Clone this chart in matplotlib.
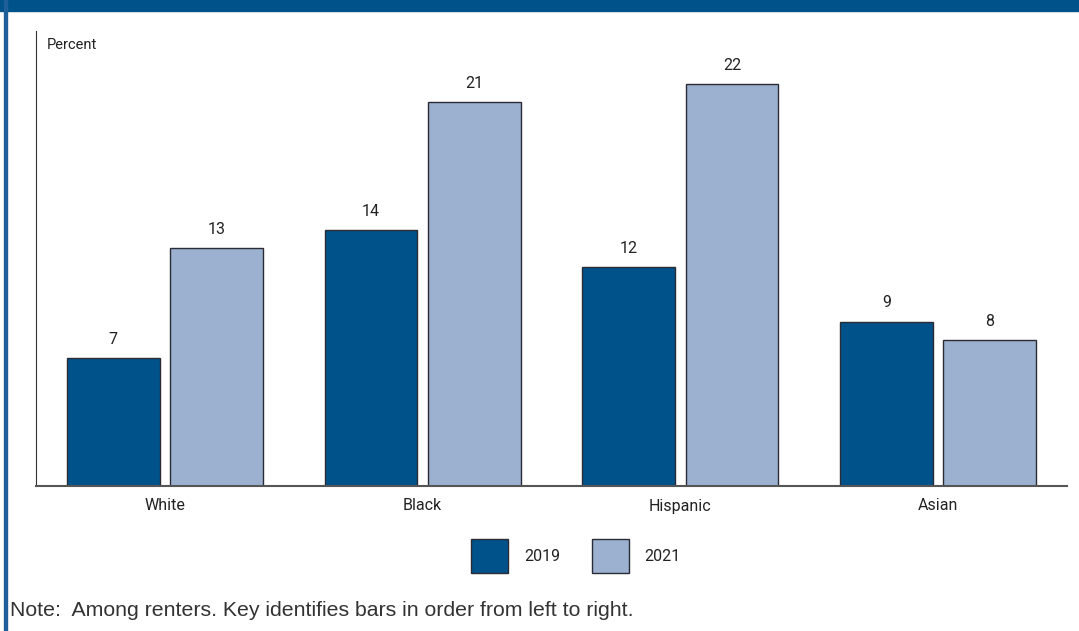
import matplotlib.pyplot as plt
import numpy as np
from matplotlib.patches import Rectangle

groups = ["White", "Black", "Hispanic", "Asian"]
years = ["2019", "2021"]
vals_2019 = [7, 14, 12, 9]
vals_2021 = [13, 21, 22, 8]

dark = "#00528a"
light = "#9cb1cf"
edge = "#2b2b35"
txt = "#222222"

plt.rcParams["font.family"] = ["Roboto", "DejaVu Sans"]

W, H = 1079, 631
fig = plt.figure(figsize=(W / 100, H / 100), dpi=100)

# frame: blue band on top, thin blue line on the left
fig.patches.append(Rectangle((0, 1 - 11 / H), 1, 11 / H, transform=fig.transFigure,
                             color=dark, zorder=0))
fig.patches.append(Rectangle((4 / W, 0), 2.5 / W, 1, transform=fig.transFigure,
                             color="#1f5f99", zorder=0))

ax = fig.add_axes([36 / W, (H - 486) / H, (1067 - 36) / W, (486 - 31) / H])
x = np.arange(len(groups))
bw = 0.36
off = 0.2
b1 = ax.bar(x - off, vals_2019, bw, color=dark, edgecolor=edge, linewidth=1, label=years[0])
b2 = ax.bar(x + off, vals_2021, bw, color=light, edgecolor=edge, linewidth=1, label=years[1])
for bars, vals in ((b1, vals_2019), (b2, vals_2021)):
    for r, v in zip(bars, vals):
        ax.annotate(str(v), (r.get_x() + r.get_width() / 2, v), xytext=(0, 8),
                    textcoords="offset points", ha="center", va="bottom",
                    fontsize=11.5, color=txt)

ax.set_xlim(-0.5, 3.5)
ax.set_ylim(0, 24.9)
ax.set_xticks(x)
ax.set_xticklabels(groups, fontsize=11.5, color=txt)
ax.tick_params(axis="x", length=0, pad=9)
ax.set_yticks([])
for s in ("top", "right"):
    ax.spines[s].set_visible(False)
ax.spines["left"].set_color("#333333")
ax.spines["bottom"].set_color("#555555")
ax.spines["bottom"].set_linewidth(1.5)
ax.text(0.01, 0.985, "Percent", transform=ax.transAxes, fontsize=10.5, color=txt,
        va="top", ha="left")

fig.legend(handles=[b1, b2], loc="center", bbox_to_anchor=(576 / W, 1 - 556 / H),
           ncol=2, frameon=False, fontsize=11.5, handlelength=2.3, handleheight=2.9,
           handletextpad=1.0, columnspacing=2.0, labelcolor=txt)

fig.text(10 / W, 1 - 611 / H, "Note:  Among renters. Key identifies bars in order from left to right.",
         fontsize=15.3, color="#333333", va="center", ha="left",
         family=["Liberation Sans", "DejaVu Sans"])

fig.savefig("out.png", dpi=100)
